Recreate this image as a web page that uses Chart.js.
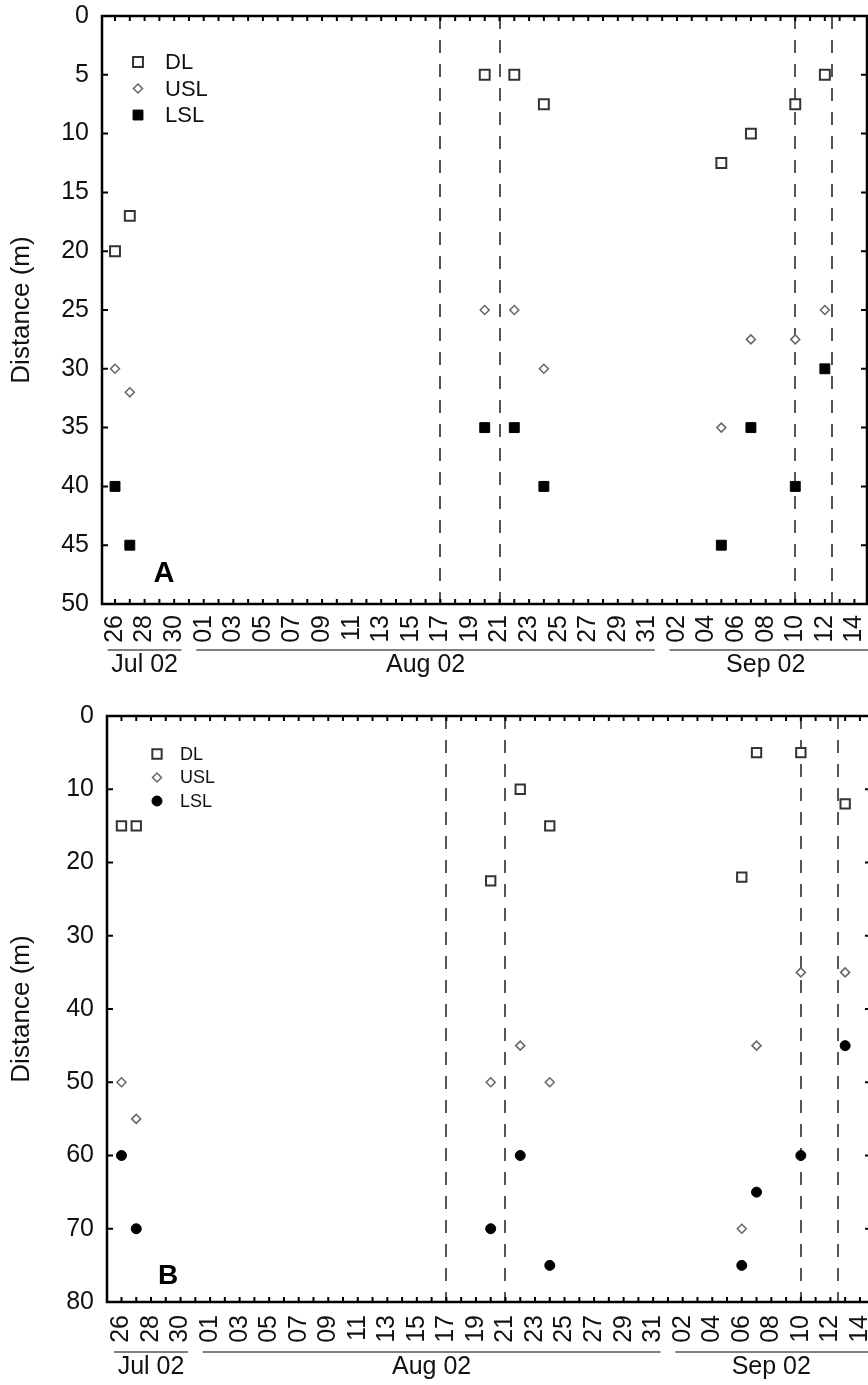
<!DOCTYPE html>
<html><head><meta charset="utf-8">
<script src="https://cdn.jsdelivr.net/npm/chart.js@4.4.1/dist/chart.umd.min.js"></script>
<style>
html,body{margin:0;padding:0;background:#fff;overflow:hidden;width:868px;height:1385px;}
#wrap{position:relative;width:868px;height:1385px;overflow:hidden;background:#fff;}
.pane{position:absolute;left:0;width:880px;}
</style></head><body>
<div id="wrap">
<div class="pane" style="top:0;height:690px"><canvas id="cA"></canvas></div>
<div class="pane" style="top:690px;height:695px"><canvas id="cB"></canvas></div>
</div>
<script>
// ---------- DATA ----------
// daily tick labels, Jul 26 2002 (index 0) to Sep 14 2002 (index 50)
const dayLabels = ['26','27','28','29','30','31',
  '01','02','03','04','05','06','07','08','09','10','11','12','13','14','15','16',
  '17','18','19','20','21','22','23','24','25','26','27','28','29','30','31',
  '01','02','03','04','05','06','07','08','09','10','11','12','13','14'];
const monthNames = ['Jul 02','Aug 02','Sep 02'];
const monthFirstTick = [0, 6, 38];   // first labelled day index of each month
const monthLastTick  = [4, 36, 50];  // last labelled day index of each month
const eventDates = ['Aug 17','Aug 21','Sep 10','Sep 12.5']; // dashed lines
const seriesNames = ['DL','USL','LSL'];

// Panel A
const datesA = ['Jul 26','Jul 27','Aug 20','Aug 22','Aug 24','Sep 5','Sep 7','Sep 10','Sep 12'];
const dlA  = [20, 17, 5, 5, 7.5, 12.5, 10, 7.5, 5];
const uslA = [30, 32, 25, 25, 30, 35, 27.5, 27.5, 25];
const lslA = [40, 45, 35, 35, 40, 45, 35, 40, 30];
const yTicksA = [0, 5, 10, 15, 20, 25, 30, 35, 40, 45, 50];

// Panel B
const datesB = ['Jul 26','Jul 27','Aug 20','Aug 22','Aug 24','Sep 6','Sep 7','Sep 10','Sep 13'];
const dlB  = [15, 15, 22.5, 10, 15, 22, 5, 5, 12];
const uslB = [50, 55, 50, 45, 50, 70, 45, 35, 35];
const lslB = [60, 70, 70, 60, 75, 75, 65, 60, 45];
const yTicksB = [0, 10, 20, 30, 40, 50, 60, 70, 80];

// ---------- HELPERS ----------
const FONT = "'Liberation Sans', Arial, Helvetica, sans-serif";
const MONTH_OFFSET = {Jul: -26, Aug: 5, Sep: 36};
function dayOf(s) { const [m, d] = s.split(' '); return MONTH_OFFSET[m] + parseFloat(d); }
function pts(dates, vals) { return dates.map((d, i) => ({x: dayOf(d), y: vals[i]})); }

function drawMarker(ctx, style, r, bw, x, y) {
  if (Chart.helpers && Chart.helpers.drawPoint) {
    Chart.helpers.drawPoint(ctx, {pointStyle: style, radius: r, borderWidth: bw, rotation: 0}, x, y);
    return;
  }
  ctx.beginPath();
  if (style === 'circle') ctx.arc(x, y, r, 0, Math.PI * 2);
  else if (style === 'rectRot') { ctx.moveTo(x, y - r); ctx.lineTo(x + r, y); ctx.lineTo(x, y + r); ctx.lineTo(x - r, y); ctx.closePath(); }
  else { const s = r * Math.SQRT1_2; ctx.rect(x - s, y - s, 2 * s, 2 * s); }
  ctx.fill(); if (bw > 0) ctx.stroke();
}

function makeChart(id, p) {
  const styles = [
    {pointStyle: 'rect', radius: p.dlR, bw: 2, border: '#333', bg: '#fff'},
    {pointStyle: 'rectRot', radius: 4.5, bw: 1.5, border: '#666', bg: '#fff'},
    {pointStyle: p.lslStyle, radius: p.lslR, bw: 1, border: '#000', bg: '#000'}
  ];
  const series = [p.dl, p.usl, p.lsl];
  const datasets = series.map((vals, k) => ({
    label: seriesNames[k],
    data: pts(p.dates, vals),
    showLine: false,
    pointStyle: styles[k].pointStyle,
    pointRadius: styles[k].radius,
    pointHoverRadius: styles[k].radius,
    pointBorderWidth: styles[k].bw,
    pointBorderColor: styles[k].border,
    pointBackgroundColor: styles[k].bg
  }));

  const deco = {
    id: 'deco' + id,
    beforeDatasetsDraw(chart) {
      const {ctx, chartArea: a, scales: {x}} = chart;
      ctx.save();
      ctx.strokeStyle = '#555'; ctx.lineWidth = 2; ctx.setLineDash([13, 11]);
      eventDates.forEach(d => {
        const px = Math.round(x.getPixelForValue(dayOf(d)));
        ctx.beginPath(); ctx.moveTo(px, a.top); ctx.lineTo(px, a.bottom); ctx.stroke();
      });
      ctx.restore();
    },
    afterDraw(chart) {
      const {ctx, chartArea: a, scales: {x, y}} = chart;
      ctx.save();
      // frame
      ctx.strokeStyle = '#000'; ctx.lineWidth = 2.5; ctx.setLineDash([]);
      ctx.strokeRect(a.left, a.top, a.right - a.left, a.bottom - a.top);
      // inward ticks
      ctx.lineWidth = 2;
      ctx.beginPath();
      dayLabels.forEach((_, i) => {
        const px = x.getPixelForValue(i);
        ctx.moveTo(px, a.bottom); ctx.lineTo(px, a.bottom - 5);
        ctx.moveTo(px, a.top); ctx.lineTo(px, a.top + 5);
      });
      p.yTicks.forEach(v => {
        const py = y.getPixelForValue(v);
        ctx.moveTo(a.left, py); ctx.lineTo(a.left + 6, py);
        ctx.moveTo(a.right, py); ctx.lineTo(a.right - 6, py);
      });
      ctx.stroke();
      // month brackets
      ctx.strokeStyle = '#555'; ctx.lineWidth = 1.5;
      ctx.fillStyle = '#111'; ctx.font = '25px ' + FONT;
      ctx.textAlign = 'center'; ctx.textBaseline = 'middle';
      monthNames.forEach((m, k) => {
        const x0 = x.getPixelForValue(monthFirstTick[k] - 0.5);
        const xe = x.getPixelForValue(monthLastTick[k] + 0.5);
        const x1 = k === monthNames.length - 1 ? a.right + 10 : xe;
        ctx.beginPath(); ctx.moveTo(x0, a.bottom + p.bracketDy); ctx.lineTo(x1, a.bottom + p.bracketDy); ctx.stroke();
        ctx.fillText(m, (x0 + xe) / 2, a.bottom + p.monthDy);
      });
      // legend
      ctx.font = p.legendFont + 'px ' + FONT; ctx.textAlign = 'left';
      seriesNames.forEach((n, k) => {
        const ly = p.legendY + k * p.legendGap;
        ctx.fillStyle = styles[k].bg; ctx.strokeStyle = styles[k].border; ctx.lineWidth = styles[k].bw;
        drawMarker(ctx, styles[k].pointStyle, styles[k].radius, styles[k].bw, p.legendX, ly);
        ctx.fillStyle = '#111';
        ctx.fillText(n, p.legendTextX, ly + 1);
      });
      // panel letter
      ctx.font = 'bold ' + p.letterSize + 'px ' + FONT;
      ctx.textAlign = 'center'; ctx.fillStyle = '#000';
      ctx.fillText(p.letter, p.letterX, p.letterY);
      ctx.restore();
    }
  };

  return new Chart(document.getElementById(id), {
    type: 'scatter',
    data: {datasets},
    options: {
      responsive: true, maintainAspectRatio: false, animation: false,
      devicePixelRatio: 1,
      layout: {padding: {left: 0, top: p.top, right: p.rightPad, bottom: 0}},
      plugins: {legend: {display: false}, tooltip: {enabled: false}},
      events: [],
      scales: {
        x: {
          type: 'linear', min: p.xMin, max: p.xMax,
          afterBuildTicks: s => { s.ticks = dayLabels.map((_, i) => ({value: i})); },
          afterFit: s => { s.height = p.xHeight; s.paddingLeft = 0; s.paddingRight = 0; },
          grid: {display: false, drawTicks: false},
          border: {display: false},
          ticks: {
            autoSkip: false, maxRotation: 90, minRotation: 90, padding: p.xPad,
            color: '#111', font: {size: 25, family: FONT},
            callback: v => (Number.isInteger(v) && v % 2 === 0 && dayLabels[v]) ? dayLabels[v] : ''
          }
        },
        y: {
          type: 'linear', reverse: true, min: 0, max: p.yMax,
          afterBuildTicks: s => { s.ticks = p.yTicks.map(v => ({value: v})); },
          afterFit: s => { s.width = p.yWidth; s.paddingTop = 0; s.paddingBottom = 0; },
          grid: {display: false, drawTicks: false},
          border: {display: false},
          ticks: {autoSkip: false, padding: 13, color: '#111', font: {size: 25, family: FONT}},
          title: {display: true, text: 'Distance (m)', color: '#111',
                  font: {size: 26, family: FONT}, padding: {top: 6, bottom: 0}}
        }
      }
    },
    plugins: [deco]
  });
}

makeChart('cA', {
  dates: datesA, dl: dlA, usl: uslA, lsl: lslA, lslStyle: 'rect', lslR: 7, dlR: 7,
  yMax: 50, yTicks: yTicksA, xMin: -0.88, xMax: 50.85,
  top: 16, rightPad: 13, yWidth: 102, xHeight: 86, xPad: 11,
  bracketDy: 46, monthDy: 61,
  legendX: 138, legendTextX: 165, legendY: 62, legendGap: 26.5, legendFont: 22,
  letter: 'A', letterX: 164, letterY: 574, letterSize: 29
});
makeChart('cB', {
  dates: datesB, dl: dlB, usl: uslB, lsl: lslB, lslStyle: 'circle', lslR: 5, dlR: 6.6,
  yMax: 80, yTicks: yTicksB, xMin: -0.98, xMax: 50.75,
  top: 26, rightPad: 9, yWidth: 107, xHeight: 83, xPad: 13,
  bracketDy: 50, monthDy: 65,
  legendX: 157, legendTextX: 180, legendY: 64, legendGap: 23.5, legendFont: 18,
  letter: 'B', letterX: 168, letterY: 586, letterSize: 28
});
</script>
</body></html>
